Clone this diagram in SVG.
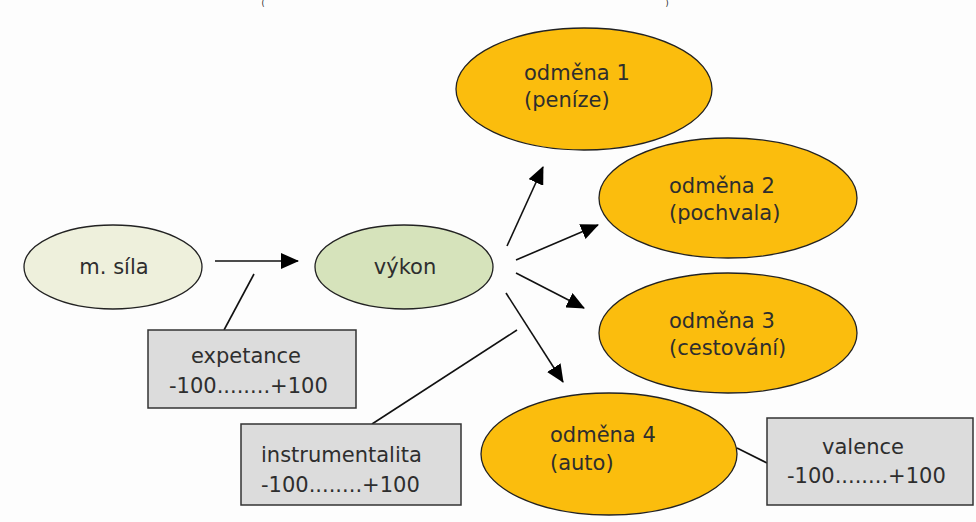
<svg xmlns="http://www.w3.org/2000/svg" width="976" height="522" viewBox="0 0 976 522">
<defs>
<style>
.t{font-family:"DejaVu Sans",Verdana,sans-serif;font-size:21px;fill:#2e2e2e}
.c{text-anchor:middle}
.ell{stroke:#222;stroke-width:1.3}
.box{fill:#dcdcdc;stroke:#333;stroke-width:1.5}
.ln{stroke:#111;stroke-width:1.6;fill:none}
.ar{marker-end:url(#ah)}
.p{font-family:"DejaVu Sans",Verdana,sans-serif;font-size:8px;fill:#222;text-anchor:middle}
</style>
<marker id="ah" markerUnits="userSpaceOnUse" markerWidth="18" markerHeight="16" viewBox="0 0 18 16" refX="17" refY="8" orient="auto">
<path d="M0,0 L18,8 L0,16 Z" fill="#000"/>
</marker>
</defs>
<rect width="976" height="522" fill="#fdfdfd"/>
<text class="p" x="263" y="6">(</text>
<text class="p" x="667" y="6">)</text>
<g id="connectors">
<line class="ln ar" x1="215" y1="261" x2="298" y2="261"/>
<line class="ln" x1="224" y1="330" x2="254" y2="274"/>
<line class="ln ar" x1="507" y1="246" x2="543" y2="167"/>
<line class="ln ar" x1="516" y1="260" x2="598" y2="225"/>
<line class="ln ar" x1="516" y1="273" x2="584" y2="308"/>
<line class="ln ar" x1="506" y1="293" x2="563" y2="382"/>
<line class="ln" x1="517" y1="330" x2="372" y2="424"/>
<line class="ln" x1="737" y1="448" x2="767" y2="463"/>
</g>
<g id="sila">
<ellipse class="ell" cx="113" cy="267" rx="89" ry="42" fill="#eef0dc"/>
<text class="t c" x="114" y="274">m. síla</text>
</g>
<g id="vykon">
<ellipse class="ell" cx="404" cy="267" rx="89" ry="42" fill="#d6e3bb"/>
<text class="t c" x="405" y="274">výkon</text>
</g>
<g id="odmena1">
<ellipse class="ell" cx="584" cy="89" rx="128" ry="61" fill="#fbbd0d"/>
<text class="t" x="524" y="80">odměna 1</text>
<text class="t" x="524" y="107">(peníze)</text>
</g>
<g id="odmena2">
<ellipse class="ell" cx="728" cy="198" rx="129" ry="60" fill="#fbbd0d"/>
<text class="t" x="669" y="193">odměna 2</text>
<text class="t" x="669" y="220">(pochvala)</text>
</g>
<g id="odmena3">
<ellipse class="ell" cx="728" cy="333" rx="129" ry="60" fill="#fbbd0d"/>
<text class="t" x="669" y="328">odměna 3</text>
<text class="t" x="669" y="355">(cestování)</text>
</g>
<g id="odmena4">
<ellipse class="ell" cx="609" cy="454" rx="128" ry="61" fill="#fbbd0d"/>
<text class="t" x="550" y="442">odměna 4</text>
<text class="t" x="550" y="470">(auto)</text>
</g>
<g id="expetance">
<rect class="box" x="148" y="330" width="208" height="78"/>
<text class="t c" x="246" y="363">expetance</text>
<text class="t" x="169" y="393">-100........+100</text>
</g>
<g id="instrumentalita">
<rect class="box" x="241" y="424" width="220" height="81"/>
<text class="t" x="261" y="462">instrumentalita</text>
<text class="t" x="261" y="492">-100........+100</text>
</g>
<g id="valence">
<rect class="box" x="767" y="418" width="206" height="87"/>
<text class="t c" x="863" y="454">valence</text>
<text class="t" x="787" y="483">-100........+100</text>
</g>
</svg>
